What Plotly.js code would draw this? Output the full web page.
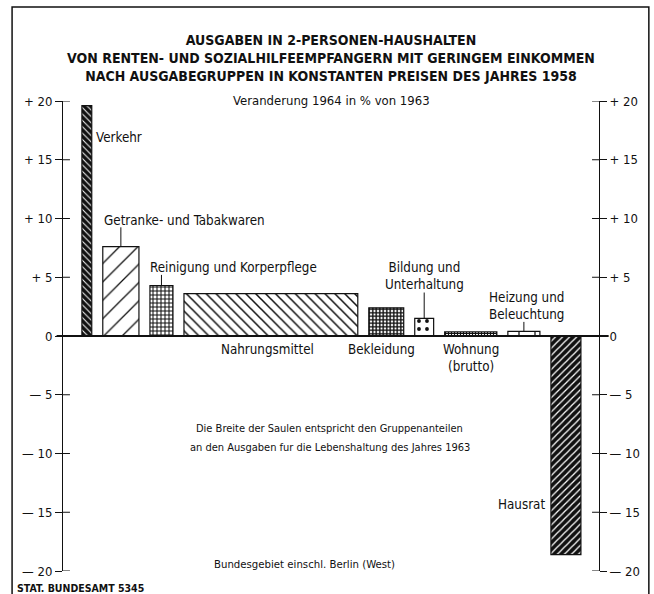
<!DOCTYPE html>
<html><head><meta charset="utf-8">
<script src="https://cdn.plot.ly/plotly-3.0.1.min.js"></script>
<style>html,body{margin:0;padding:0;background:#fff}</style>
</head><body><div id="chart" style="width:654px;height:594px"></div>
<script>
// ---- data ----
const categories = ['Verkehr', 'Getranke- und Tabakwaren', 'Reinigung und Korperpflege', 'Nahrungsmittel',
  'Bekleidung', 'Bildung und Unterhaltung', 'Wohnung (brutto)', 'Heizung und Beleuchtung', 'Hausrat'];
// width of each column = share of group in 1963 living expenditure (%)
const shares = [2.4, 8.8, 5.6, 42.3, 8.5, 4.6, 12.7, 7.8, 7.3];
// change 1964 vs 1963 in %
const changes = [19.6, 7.6, 4.3, 3.6, 2.4, 1.5, 0.35, 0.4, -18.6];
const tickValues = [20, 15, 10, 5, 0, -5, -10, -15, -20];
const tickLabels = ['+ 20', '+ 15', '+ 10', '+ 5', '0', '— 5', '— 10', '— 15', '— 20'];

// ---- layout helpers ----
const LEAD = 4.6, GAP = 2.68, TRAIL = 4.4;
const centers = [];
let acc = LEAD;
shares.forEach((w, i) => { centers.push(acc + w / 2); acc += w + GAP; });
const XMAX = acc - GAP + TRAIL;
const FONT = 'DejaVu Sans Condensed, Liberation Sans Narrow, sans-serif';

const patShape = ['\\', '/', '+', '\\', '+', '.', '+', '|', '/'];
const patBg = ['#111', '#fff', '#fff', '#fff', '#fff', '#fff', '#fff', '#fff', '#111'];
const patFg = ['#fff', '#111', '#111', '#111', '#111', '#111', '#111', '#111', '#fff'];
const patSize = [4.5, 13, 4, 7, 3.5, 8, 3, 16, 5];
const patSol = [0.22, 0.1, 0.45, 0.22, 0.65, 0.18, 0.6, 0.08, 0.25];

const bars = {
  type: 'bar', x: centers, y: changes, width: shares,
  hovertext: categories, hoverinfo: 'text+y', textposition: 'none',
  marker: {
    color: '#fff',
    line: {color: '#111', width: 1.2},
    pattern: {shape: patShape, bgcolor: patBg, fgcolor: patFg, size: patSize, solidity: patSol, fillmode: 'replace'}
  },
  showlegend: false
};
const rightAxisTrace = {type: 'scatter', x: [0], y: [0], yaxis: 'y2', mode: 'none', showlegend: false, hoverinfo: 'skip'};

const shapes = [];
// outer frame
shapes.push({type: 'rect', xref: 'paper', yref: 'paper', x0: -0.095, x1: 1.093, y0: -0.08, y1: 1.2, line: {color: '#111', width: 1.5}});
// zero line
shapes.push({type: 'line', xref: 'paper', yref: 'y', x0: -0.012, x1: 1.018, y0: 0, y1: 0, line: {color: '#111', width: 1.8}});
// inner halves of tick marks
tickValues.forEach(v => {
  shapes.push({type: 'line', xref: 'paper', yref: 'y', x0: 0, x1: 0.013, y0: v, y1: v, line: {color: '#111', width: 1}});
  shapes.push({type: 'line', xref: 'paper', yref: 'y', x0: 0.987, x1: 1, y0: v, y1: v, line: {color: '#111', width: 1}});
});
// leader lines from labels to columns
const leaders = [[1, 1.65], [2, 0.9], [5, 2.2], [7, 0.8]];
leaders.forEach(([i, len]) => {
  shapes.push({type: 'line', xref: 'x', yref: 'y', x0: centers[i], x1: centers[i], y0: changes[i], y1: changes[i] + len, line: {color: '#111', width: 1}});
});

const lf = {family: FONT, size: 13.3, color: '#111'};
const ann = (o) => Object.assign({showarrow: false, font: lf, yanchor: 'middle'}, o);
const annotations = [
  ann({x: centers[0] + shares[0] / 2 + 0.5, y: 16.9, xanchor: 'left', text: 'Verkehr'}),
  ann({x: centers[1] - shares[1] / 2 - 0.3, y: changes[1] + 2.25, xanchor: 'left', text: 'Getranke- und Tabakwaren'}),
  ann({x: centers[2] - shares[2] / 2 - 0.4, y: changes[2] + 1.56, xanchor: 'left', text: 'Reinigung und Korperpflege'}),
  ann({x: centers[3] - 0.8, y: -1.15, text: 'Nahrungsmittel'}),
  ann({x: centers[4] - 1.2, y: -1.15, text: 'Bekleidung'}),
  ann({x: centers[5], y: changes[5] + 3.6, text: 'Bildung und<br>Unterhaltung'}),
  ann({x: centers[6], y: -1.85, text: 'Wohnung<br>(brutto)'}),
  ann({x: centers[7] + 0.6, y: changes[7] + 2.15, text: 'Heizung und<br>Beleuchtung'}),
  ann({x: centers[8] - shares[8] / 2 - 1.0, y: -14.3, xanchor: 'right', text: 'Hausrat'}),
  ann({xref: 'paper', yref: 'paper', x: 0.498, y: 0.3038, font: {family: FONT, size: 11, color: '#111'},
       text: 'Die Breite der Saulen entspricht den Gruppenanteilen'}),
  ann({xref: 'paper', yref: 'paper', x: 0.498, y: 0.2638, font: {family: FONT, size: 11, color: '#111'},
       text: 'an den Ausgaben fur die Lebenshaltung des Jahres 1963'}),
  ann({xref: 'paper', yref: 'paper', x: 0.45, y: 0.0128, font: {family: FONT, size: 11.3, color: '#111'},
       text: 'Bundesgebiet einschl. Berlin (West)'}),
  ann({xref: 'paper', yref: 'paper', x: -0.09, y: -0.036, xanchor: 'left', font: {family: FONT, size: 10.5, color: '#111', weight: 'bold'},
       text: 'STAT. BUNDESAMT 5345'}),
  ann({xref: 'paper', yref: 'paper', x: 0.5, y: 1.002, font: {family: FONT, size: 13, color: '#111'},
       text: 'Veranderung 1964 in % von 1963'})
];

const axisCommon = {
  range: [-20, 20], tickvals: tickValues, ticktext: tickLabels,
  ticks: 'outside', ticklen: 7, tickwidth: 1, tickcolor: '#111',
  showline: true, linecolor: '#111', linewidth: 1, showgrid: false, zeroline: false,
  tickfont: {family: FONT, size: 13, color: '#111'}, fixedrange: true
};

const layout = {
  width: 654, height: 594,
  margin: {l: 63, r: 55, t: 101, b: 23},
  paper_bgcolor: '#fff', plot_bgcolor: '#fff',
  title: {
    text: 'AUSGABEN IN 2-PERSONEN-HAUSHALTEN<br>VON RENTEN- UND SOZIALHILFEEMPFANGERN MIT GERINGEM EINKOMMEN<br>NACH AUSGABEGRUPPEN IN KONSTANTEN PREISEN DES JAHRES 1958',
    font: {family: FONT, size: 14, color: '#111', weight: 'bold'},
    x: 0.5, xref: 'paper', xanchor: 'center', y: 0.925, yref: 'container', yanchor: 'top'
  },
  xaxis: {range: [0, XMAX], visible: false, fixedrange: true},
  yaxis: Object.assign({}, axisCommon, {side: 'left'}),
  yaxis2: Object.assign({}, axisCommon, {side: 'right', overlaying: 'y', anchor: 'x'}),
  shapes: shapes,
  annotations: annotations,
  bargap: 0
};

Plotly.newPlot('chart', [bars, rightAxisTrace], layout, {displayModeBar: false, staticPlot: true});
</script>
</body></html>
